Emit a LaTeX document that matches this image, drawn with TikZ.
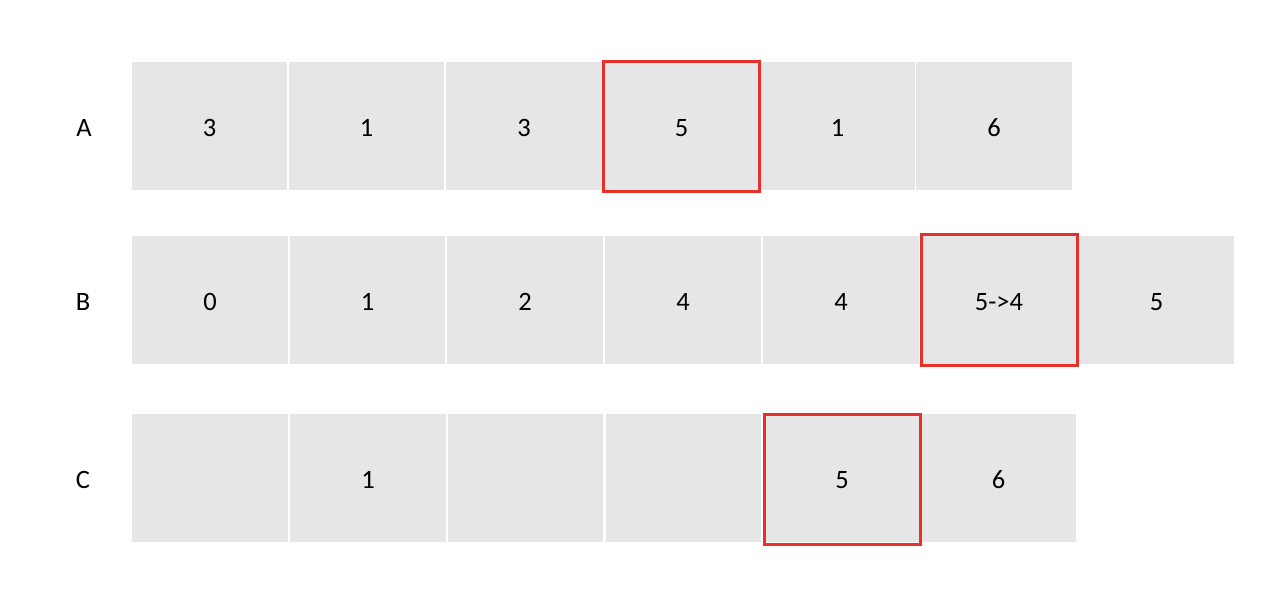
\documentclass[tikz,border=0pt]{standalone}
\usepackage{fontspec}
\setmainfont{Carlito}
\definecolor{cellgray}{RGB}{230,230,230}
\definecolor{boxred}{RGB}{232,48,42}
\tikzset{
  cell/.style={fill=cellgray, minimum width=155.5pt, minimum height=128pt, inner sep=0pt, outer sep=0pt, text height=21pt, text depth=0pt, font=\fontsize{26.5}{31}\selectfont},
  rowlabel/.style={font=\fontsize{26.5}{31}\selectfont, inner sep=0pt},
  redbox/.style={draw=boxred, line width=3pt}
}
\begin{document}
\begin{tikzpicture}[x=1pt,y=-1pt]
\useasboundingbox (0,0) rectangle (1280,590);
% Row A
\node[rowlabel] (la) at (84,128) {A};
\node[cell] (a1) at (209.5,126) {3};
\node[cell] (a2) at (366.5,126) {1};
\node[cell] (a3) at (524,126) {3};
\node[cell] (a4) at (681.5,126) {5};
\node[cell] (a5) at (837.5,126) {1};
\node[cell] (a6) at (994,126) {6};
% Row B
\node[rowlabel] (lb) at (83,302) {B};
\node[cell] (b1) at (210,300) {0};
\node[cell] (b2) at (367.5,300) {1};
\node[cell] (b3) at (525,300) {2};
\node[cell] (b4) at (683,300) {4};
\node[cell] (b5) at (841,300) {4};
\node[cell] (b6) at (999,300) {5->4};
\node[cell] (b7) at (1156.5,300) {5};
% Row C
\node[rowlabel] (lc) at (83,480) {C};
\node[cell] (c1) at (210,478) {};
\node[cell] (c2) at (368,478) {1};
\node[cell] (c3) at (525.5,478) {};
\node[cell] (c4) at (683.5,478) {};
\node[cell] (c5) at (842,478) {5};
\node[cell] (c6) at (998.5,478) {6};
% red highlights
\draw[redbox] ([shift={(-0.5,-0.5)}]a4.north west) rectangle ([shift={(0.5,1.5)}]a4.south east);
\draw[redbox] ([shift={(0.5,-1.5)}]b6.north west) rectangle ([shift={(0.5,1.5)}]b6.south east);
\draw[redbox] ([shift={(0.5,0)}]c5.north west) rectangle ([shift={(1,2.5)}]c5.south east);
\end{tikzpicture}
\end{document}
